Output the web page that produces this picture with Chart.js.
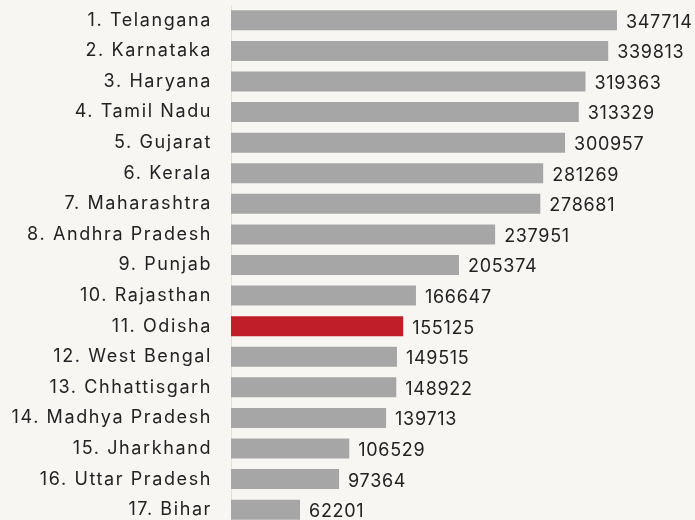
<!DOCTYPE html>
<html>
<head>
<meta charset="utf-8">
<script src="https://cdn.jsdelivr.net/npm/chart.js@4"></script>
<style>
    html, body { margin: 0; padding: 0; background: #f8f6f3; overflow: hidden; }
    #wrap { position: relative; width: 695px; height: 525px; }
</style>
</head>
<body>
<div id="wrap"><canvas id="chart"></canvas></div>
<script>
const states = [
    '1. Telangana', '2. Karnataka', '3. Haryana', '4. Tamil Nadu', '5. Gujarat',
    '6. Kerala', '7. Maharashtra', '8. Andhra Pradesh', '9. Punjab', '10. Rajasthan',
    '11. Odisha', '12. West Bengal', '13. Chhattisgarh', '14. Madhya Pradesh',
    '15. Jharkhand', '16. Uttar Pradesh', '17. Bihar',
];
const income = [
    347714, 339813, 319363, 313329, 300957, 281269, 278681, 237951, 205374,
    166647, 155125, 149515, 148922, 139713, 106529, 97364, 62201,
];
const highlight = '11. Odisha';

const GRAY = '#a6a6a6';
const RED = '#c01f28';
const FONT = 'Inter, "Noto Sans", sans-serif';

// the reference font is a wide geometric one, fake it with some spacing
const spacing = {
    id: 'spacing',
    beforeDraw(chart) {
        chart.ctx.letterSpacing = '1.6px';
    },
};

// numbers at the end of each bar
const valueLabels = {
    id: 'valueLabels',
    afterDatasetsDraw(chart) {
        const { ctx } = chart;
        const meta = chart.getDatasetMeta(0);
        ctx.save();
        ctx.font = '18px ' + FONT;
        ctx.letterSpacing = '0.7px';
        ctx.fillStyle = '#222';
        ctx.textAlign = 'left';
        ctx.textBaseline = 'middle';
        meta.data.forEach((bar, i) => {
            ctx.fillText(String(income[i]), bar.x + 9, bar.y + 2);
        });
        ctx.restore();
    },
};

new Chart(document.getElementById('chart'), {
    type: 'bar',
    data: {
        labels: states,
        datasets: [{
            data: income,
            backgroundColor: states.map((s) => s === highlight ? RED : GRAY),
            borderWidth: 0,
            barPercentage: 0.654,
            categoryPercentage: 1,
        }],
    },
    options: {
        indexAxis: 'y',
        animation: false,
        responsive: true,
        maintainAspectRatio: false,
        layout: { padding: { top: 5, right: 20, bottom: 0, left: 0 } },
        plugins: {
            legend: { display: false },
            tooltip: { enabled: false },
        },
        scales: {
            x: {
                display: false,
                min: 0,
                max: 400000,
            },
            y: {
                afterFit: (scale) => {
                    scale.width = 231;
                    scale.paddingTop = 0;
                    scale.paddingBottom = 0;
                },
                grid: { display: false, drawTicks: false },
                border: { display: true, color: '#e2dfda', width: 1 },
                ticks: {
                    padding: 19,
                    color: '#222',
                    font: { family: FONT, size: 18 },
                },
            },
        },
    },
    plugins: [spacing, valueLabels],
});
</script>
</body>
</html>
